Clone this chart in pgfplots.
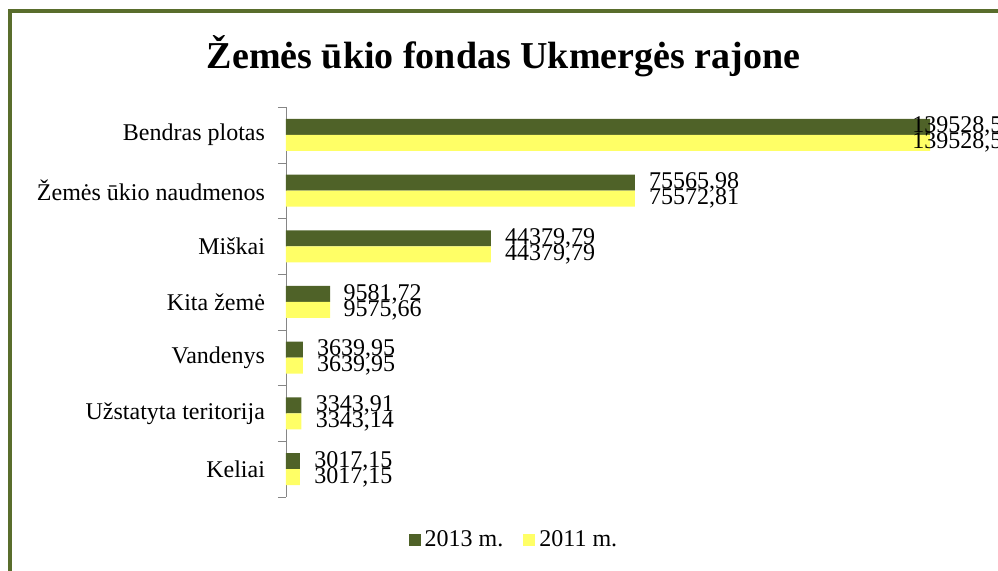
\documentclass[border=0pt]{standalone}
\usepackage{fontspec}
\setmainfont{Liberation Serif}
\usepackage{pgfplots}
\usepackage{pgfplotstable}
\pgfplotsset{compat=1.18}
\definecolor{darkolive}{HTML}{4F6228}
\definecolor{yel}{HTML}{FFFF66}
\definecolor{frameol}{HTML}{596D2C}
\definecolor{axgray}{HTML}{868686}

\pgfplotstableread{
c v13 l13 s13 v11 l11 s11
0 139528.5 139528,5 -9 139528.5 139528,5 -9
1 75565.98 75565,98 7 75572.81 75572,81 7
2 44379.79 44379,79 7 44379.79 44379,79 7
3 9581.72 9581,72 6.5 9575.66 9575,66 6.5
4 3639.95 3639,95 7 3639.95 3639,95 7
5 3343.91 3343,91 7 3343.14 3343,14 7
6 3017.15 3017,15 7 3017.15 3017,15 7
}\data

\begin{document}
\begin{tikzpicture}
\useasboundingbox (0,0) rectangle (499pt,285.5pt);
\draw[frameol, line width=2pt] (5pt,-2pt) -- (5pt,279.75pt) -- (502pt,279.75pt);
\node[font=\fontsize{19}{22}\selectfont\bfseries, anchor=base] at (251.75pt,251pt) {Žemės ūkio fondas Ukmergės rajone};
\begin{axis}[
  at={(143pt,232pt)}, anchor=north west,
  scale only axis, width=356pt, height=195pt,
  xbar, bar width=8pt,
  xmin=0, xmax=154260,
  ymin=-0.5, ymax=6.5, y dir=reverse,
  axis x line=none,
  axis y line*=left,
  axis line style={axgray},
  ytick={0,...,6},
  yticklabels={Bendras plotas, Žemės ūkio naudmenos, Miškai, Kita žemė, Vandenys, Užstatyta teritorija, Keliai},
  major tick length=0pt,
  minor ytick={-0.5,0.5,...,6.5},
  minor tick length=4pt,
  tick align=outside,
  minor tick style={axgray},
  yticklabel style={font=\fontsize{12}{14}\selectfont, xshift=-7pt},
  point meta=explicit symbolic,
  nodes near coords,
  legend columns=2,
  legend style={at={(0.3216,-0.110)}, anchor=center, draw=none, font=\fontsize{12}{14}\selectfont,
    /tikz/every even column/.append style={column sep=8pt}},
  legend image code/.code={\fill[#1] (0pt,-3pt) rectangle (6pt,3pt);},
]
\addplot+[draw=none, fill=darkolive, bar shift=4pt,
  visualization depends on={\thisrow{s13} \as \mysh},
  every node near coord/.append style={anchor=west, inner sep=0pt, xshift=\mysh pt, font=\fontsize{12}{14}\selectfont, text=black}]
  table[x=v13, y=c, meta=l13] {\data};
\addlegendentry{2013 m.}
\addplot+[draw=none, fill=yel, bar shift=-4pt,
  visualization depends on={\thisrow{s11} \as \mysh},
  every node near coord/.append style={anchor=west, inner sep=0pt, xshift=\mysh pt, font=\fontsize{12}{14}\selectfont, text=black}]
  table[x=v11, y=c, meta=l11] {\data};
\addlegendentry{2011 m.}
\end{axis}
\end{tikzpicture}
\end{document}
